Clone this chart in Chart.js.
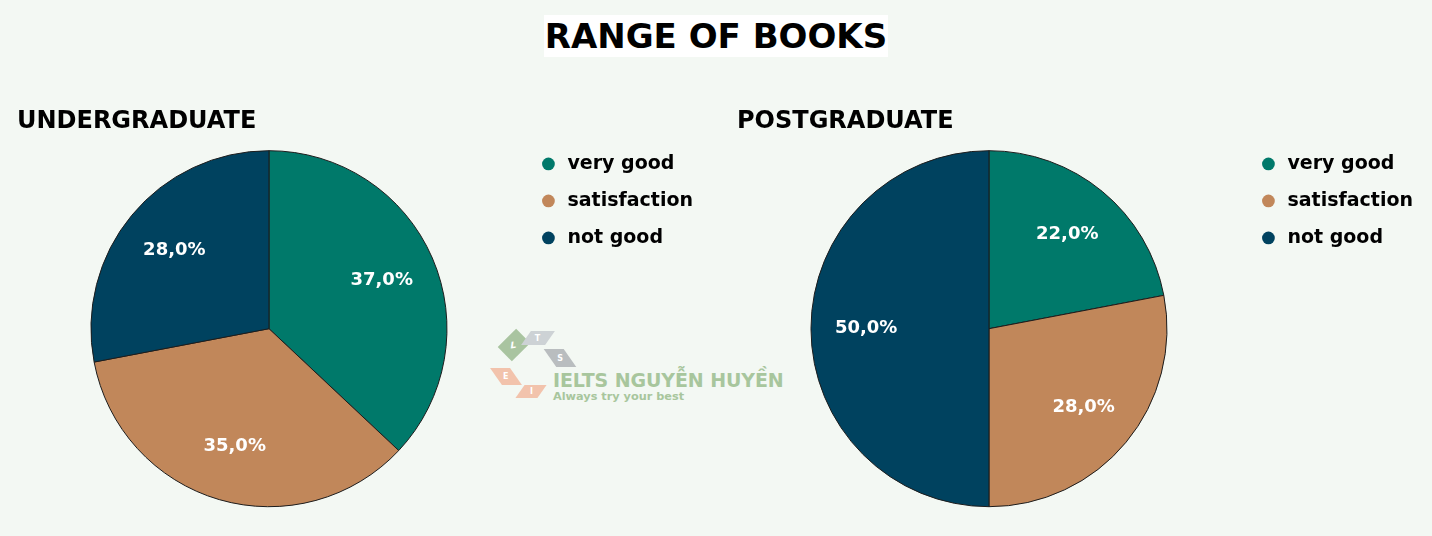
<!DOCTYPE html>
<html>
<head>
<meta charset="utf-8">
<script src="https://cdn.jsdelivr.net/npm/chart.js@4.4.0/dist/chart.umd.min.js"></script>
<style>
  html, body { margin: 0; padding: 0; }
  body { width: 1432px; height: 536px; overflow: hidden; background: #f3f8f3; position: relative; font-family: "DejaVu Sans", sans-serif; }
  #mainTitle { position: absolute; left: 544px; top: 15px; width: 344px; height: 42px; background: #ffffff;
    font: bold 34px "DejaVu Sans", sans-serif; color: #000; text-align: center; line-height: 42px; white-space: nowrap; }
  .chartBox { position: absolute; top: 0; width: 712px; height: 536px; }
  #wm { position: absolute; left: 490px; top: 325px; width: 310px; height: 85px; }
  .shp { position: absolute; color: #fff; font: bold 8px "DejaVu Sans", sans-serif; display: flex; align-items: center; justify-content: center; }
  .wmText { position: absolute; color: #a8c69d; font-family: "DejaVu Sans", sans-serif; font-weight: bold; white-space: nowrap; }
</style>
</head>
<body>
<div id="mainTitle">RANGE OF BOOKS</div>

<div id="wm">
  <div class="shp" style="left:14px;top:10px;width:20px;height:20px;background:#a9c4a0;transform:rotate(45deg) scaleY(1.3);"><span style="transform:rotate(-45deg)">L</span></div>
  <div class="shp" style="left:36px;top:6px;width:24px;height:14px;background:#cdd2d5;transform:skewX(-35deg);"><span style="transform:skewX(35deg)">T</span></div>
  <div class="shp" style="left:60px;top:24px;width:20px;height:18px;background:#b9bdbf;transform:skewX(35deg);"><span style="transform:skewX(-35deg)">S</span></div>
  <div class="shp" style="left:6px;top:43px;width:20px;height:17px;background:#f2c3ac;transform:skewX(35deg);"><span style="transform:skewX(-35deg)">E</span></div>
  <div class="shp" style="left:30px;top:60px;width:22px;height:13px;background:#f2c3ac;transform:skewX(-35deg);"><span style="transform:skewX(35deg)">I</span></div>
  <div class="wmText" style="left:63px;top:44px;font-size:19px;letter-spacing:-0.1px;">IELTS NGUYỄN HUYỀN</div>
  <div class="wmText" style="left:63px;top:65px;font-size:11.3px;">Always try your best</div>
</div>

<div class="chartBox" style="left:0px;"><canvas id="c1" width="712" height="536"></canvas></div>
<div class="chartBox" style="left:720px;"><canvas id="c2" width="712" height="536"></canvas></div>

<script>
const categories = ["very good", "satisfaction", "not good"];
const undergraduateValues = [37, 35, 28];
const postgraduateValues = [22, 28, 50];
const chartTitles = ["UNDERGRADUATE", "POSTGRADUATE"];
const sliceColors = ["#00796a", "#c1875a", "#00425f"];

const pieLabelPlugin = {
  id: 'pieLabels',
  afterDatasetsDraw(chart) {
    const ctx = chart.ctx;
    const ds = chart.data.datasets[0];
    const meta = chart.getDatasetMeta(0);
    const total = ds.data.reduce((a, b) => a + b, 0);
    ctx.save();
    ctx.font = 'bold 18px "DejaVu Sans", sans-serif';
    ctx.fillStyle = '#ffffff';
    ctx.textAlign = 'center';
    ctx.textBaseline = 'middle';
    meta.data.forEach((arc, i) => {
      const p = arc.getProps(['x', 'y', 'startAngle', 'endAngle', 'outerRadius'], true);
      const mid = (p.startAngle + p.endAngle) / 2;
      const r = p.outerRadius * 0.69;
      const txt = (ds.data[i] / total * 100).toFixed(1).replace('.', ',') + '%';
      ctx.fillText(txt, p.x + Math.cos(mid) * r, p.y + Math.sin(mid) * r);
    });
    ctx.restore();
  }
};

function makePie(id, title, values) {
  return new Chart(document.getElementById(id), {
    type: 'pie',
    data: {
      labels: categories,
      datasets: [{
        data: values,
        backgroundColor: sliceColors,
        borderColor: '#1c1c1c',
        borderWidth: 1
      }]
    },
    options: {
      responsive: false,
      devicePixelRatio: 1,
      animation: false,
      events: [],
      radius: 178,
      layout: { padding: { left: 17, right: 9, top: 0, bottom: 15 } },
      plugins: {
        tooltip: { enabled: false },
        title: {
          display: true,
          text: title,
          align: 'start',
          color: '#000',
          font: { family: '"DejaVu Sans", sans-serif', size: 24, weight: 'bold', lineHeight: 1.2 },
          padding: { top: 107.6, bottom: 0 }
        },
        legend: {
          position: 'right',
          align: 'start',
          fullSize: false,
          labels: {
            usePointStyle: true,
            pointStyle: 'circle',
            boxHeight: 9,
            padding: 18,
            color: '#000',
            font: { family: '"DejaVu Sans", sans-serif', size: 19, weight: 'bold' },
            generateLabels(chart) {
              return Chart.overrides.pie.plugins.legend.labels.generateLabels(chart)
                .map(l => Object.assign(l, { lineWidth: 0, strokeStyle: l.fillStyle }));
            }
          }
        }
      }
    },
    plugins: [pieLabelPlugin]
  });
}

makePie('c1', chartTitles[0], undergraduateValues);
makePie('c2', chartTitles[1], postgraduateValues);
</script>
</body>
</html>
